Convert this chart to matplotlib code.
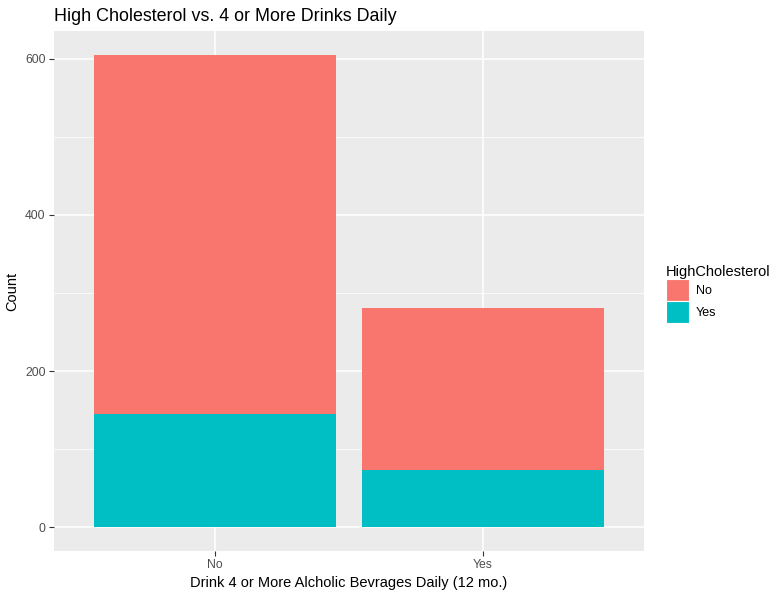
import matplotlib
matplotlib.use("Agg")
import matplotlib.pyplot as plt
from matplotlib.patches import Patch

# data
drink_groups = ["No", "Yes"]
chol_no = [460, 208]
chol_yes = [145, 73]
fill_colors = {"No": "#F8766D", "Yes": "#00BFC4"}

plt.rcParams["font.family"] = ["Liberation Sans", "DejaVu Sans"]

fig = plt.figure(figsize=(7.84, 5.97), dpi=100)
ax = fig.add_axes([54 / 784, (597 - 551) / 597, 590 / 784, 520 / 597])
ax.set_facecolor("#EBEBEB")

x = range(1, len(drink_groups) + 1)
ax.bar(x, chol_yes, width=0.9, color=fill_colors["Yes"], zorder=3)
ax.bar(x, chol_no, width=0.9, bottom=chol_yes, color=fill_colors["No"], zorder=3)

totals = [a + b for a, b in zip(chol_no, chol_yes)]
top = max(totals)
ax.set_xlim(0.4, 2.6)
ax.set_ylim(-0.05 * top, 1.05 * top)

ax.set_xticks(list(x))
ax.set_xticklabels(drink_groups)
ax.set_yticks([0, 200, 400, 600])
ax.set_yticks([100, 300, 500], minor=True)

ax.grid(which="major", color="white", linewidth=1.1, zorder=0)
ax.grid(which="minor", axis="y", color="white", linewidth=0.55, zorder=0)
ax.set_axisbelow(True)
for s in ax.spines.values():
    s.set_visible(False)
ax.tick_params(which="major", color="#333333", length=3.5, width=0.8,
               labelsize=8.8, labelcolor="#4D4D4D", pad=2.5)
ax.tick_params(which="minor", length=0)

ax.set_xlabel("Drink 4 or More Alcholic Bevrages Daily (12 mo.)", fontsize=10.5, labelpad=3)
ax.set_ylabel("Count", fontsize=10.5, labelpad=4)
ax.set_title("High Cholesterol vs. 4 or More Drinks Daily", fontsize=12.9, loc="left",
             x=0.0, pad=7)

handles = [Patch(facecolor=fill_colors[k], edgecolor="white", linewidth=0.8, label=k)
           for k in ["No", "Yes"]]
leg = fig.legend(handles=handles, title="HighCholesterol", loc="center left",
                 bbox_to_anchor=(666 / 784, 1 - 294 / 597), frameon=False,
                 fontsize=9, title_fontsize=10.5, handlelength=1.8, handleheight=2.33,
                 handletextpad=0.6, labelspacing=0.0, borderaxespad=0, borderpad=0)
leg._legend_box.align = "left"

fig.savefig("out.png", dpi=100)
